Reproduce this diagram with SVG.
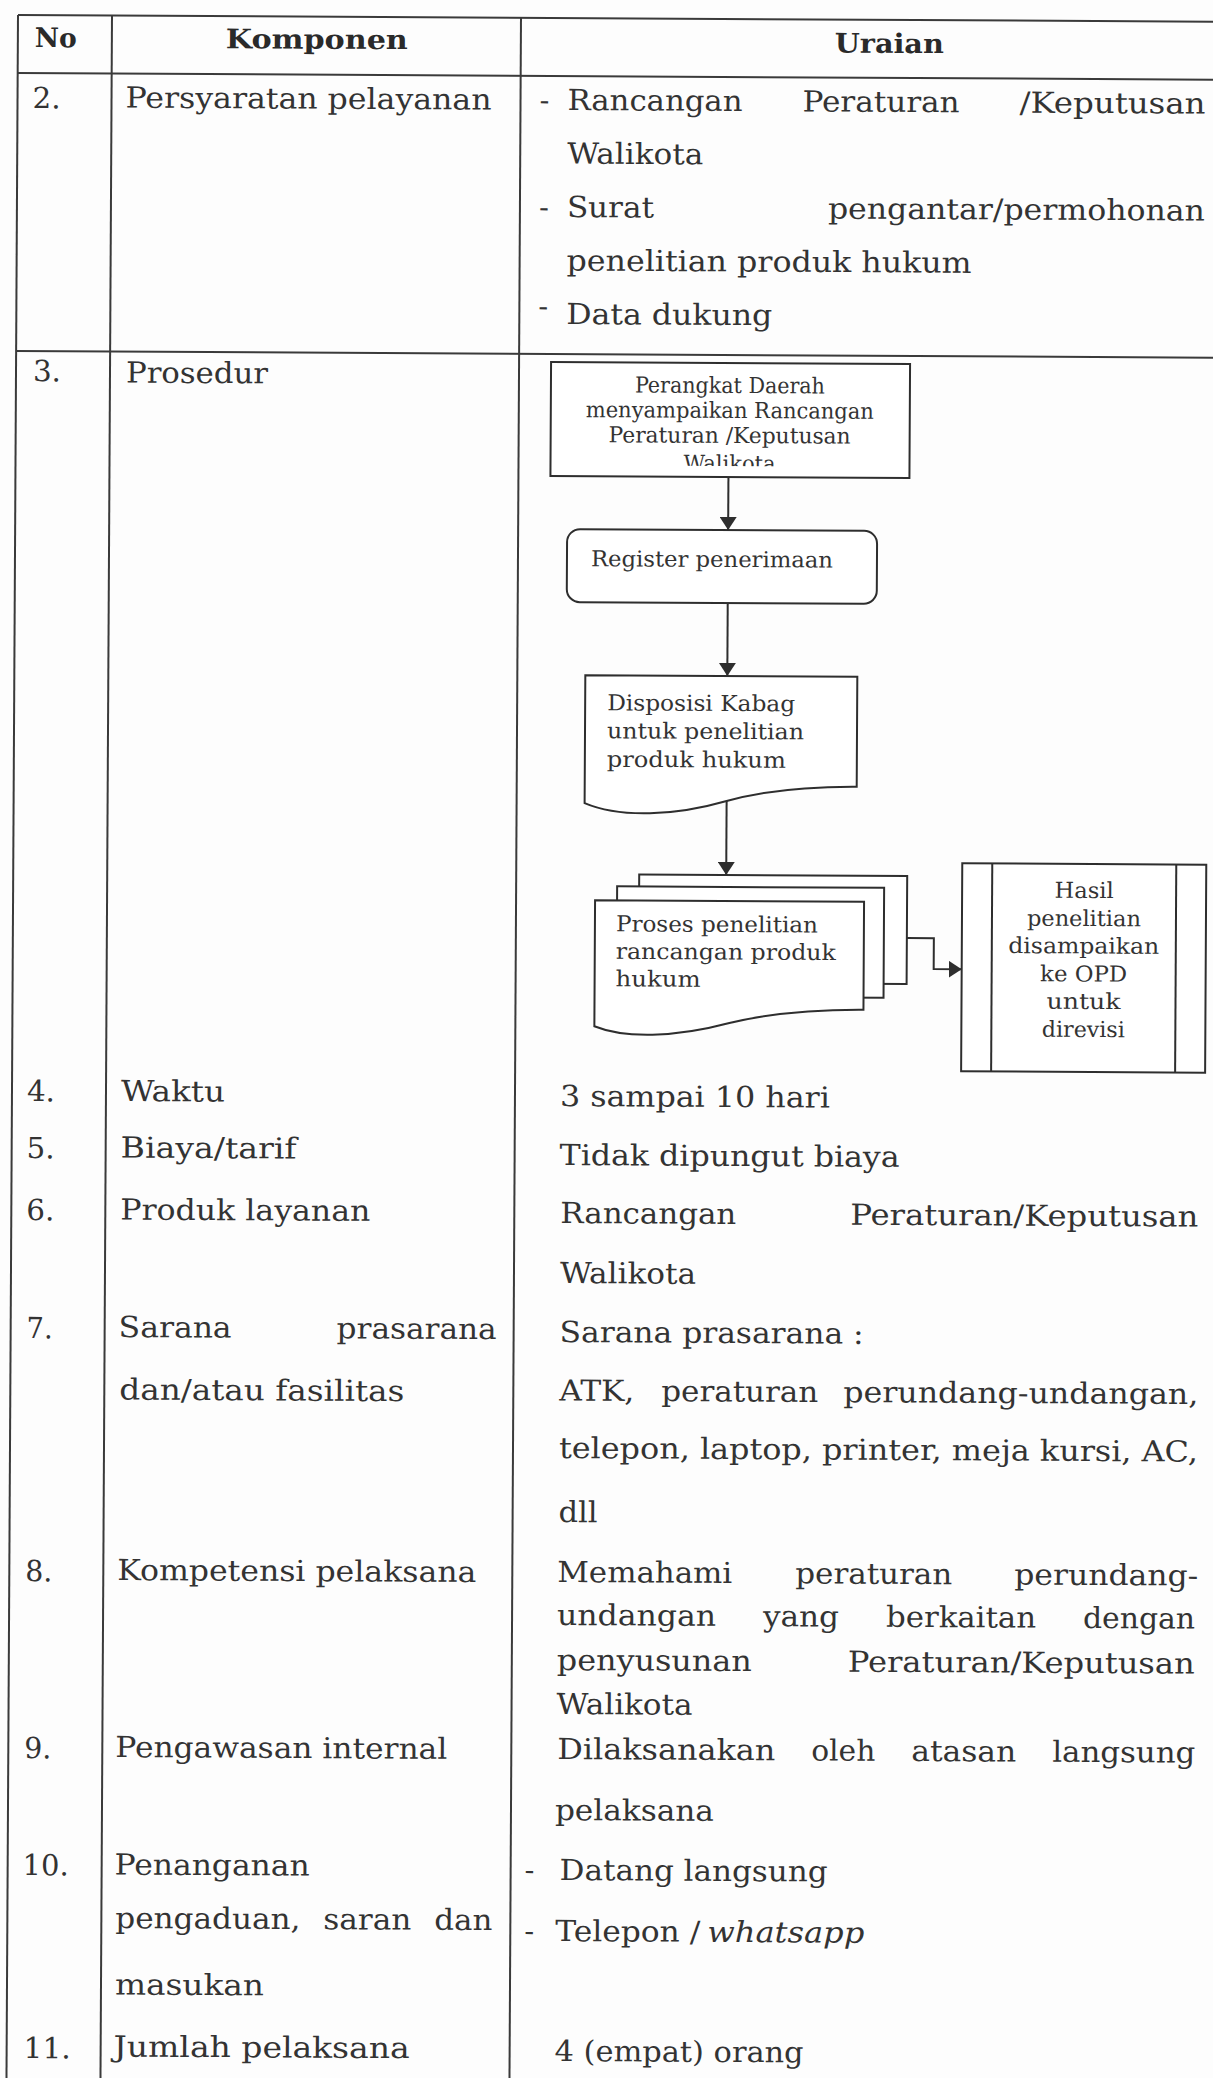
<svg xmlns="http://www.w3.org/2000/svg" width="1213" height="2078" viewBox="0 0 1213 2078">
<defs>
<style>
.t { font-family: "DejaVu Serif", "Liberation Serif", serif; font-size: 29px; fill: #333; }
.h { font-weight: bold; font-size: 27px; fill: #2a2a2a; }
.f { font-size: 22px; }
.it { font-style: italic; }
.mid { text-anchor: middle; }
.ln { stroke: #3a3a3a; stroke-width: 2; fill: none; }
.shape { stroke: #2e2e2e; stroke-width: 2; fill: #fff; }
.conn { stroke: #2e2e2e; stroke-width: 2; fill: none; }
</style>
<marker id="arr" viewBox="0 0 13 17" refX="13" refY="8.5" markerWidth="13" markerHeight="17" markerUnits="userSpaceOnUse" orient="auto">
<path d="M0,0 L13,8.5 L0,17 z" fill="#2e2e2e"/>
</marker>
<clipPath id="clipBox1"><rect x="553" y="359" width="359" height="103"/></clipPath>
</defs>
<rect width="1213" height="2078" fill="#fdfdfd"/>
<g transform="rotate(0.32 18 15)">
<g id="table-grid" class="ln">
<line x1="18" y1="15" x2="1240" y2="15"/>
<line x1="18" y1="73" x2="1240" y2="73"/>
<line x1="18" y1="351" x2="1240" y2="351"/>
<line x1="18" y1="15" x2="18" y2="2100"/>
<line x1="112" y1="15" x2="112" y2="2100"/>
<line x1="521" y1="15" x2="521" y2="2100"/>
</g>
<g id="header">
<text class="t h" x="35" y="47" textLength="42" lengthAdjust="spacingAndGlyphs">No</text>
<text class="t h" x="226" y="47" textLength="182" lengthAdjust="spacingAndGlyphs">Komponen</text>
<text class="t h" x="835" y="48" textLength="109" lengthAdjust="spacingAndGlyphs">Uraian</text>
</g>
<g id="row2">
<text class="t" x="33" y="108" textLength="28" lengthAdjust="spacingAndGlyphs">2.</text>
<text class="t" x="126" y="107" textLength="366" lengthAdjust="spacingAndGlyphs">Persyaratan pelayanan</text>
<text class="t" x="540" y="107">-</text>
<text class="t" x="568" y="107" textLength="175" lengthAdjust="spacingAndGlyphs">Rancangan</text>
<text class="t" x="803" y="107" textLength="157" lengthAdjust="spacingAndGlyphs">Peraturan</text>
<text class="t" x="1020" y="107" textLength="186" lengthAdjust="spacingAndGlyphs">/Keputusan</text>
<text class="t" x="568" y="160.5" textLength="136" lengthAdjust="spacingAndGlyphs">Walikota</text>
<text class="t" x="540" y="214">-</text>
<text class="t" x="568" y="214" textLength="87" lengthAdjust="spacingAndGlyphs">Surat</text>
<text class="t" x="829" y="214" textLength="377" lengthAdjust="spacingAndGlyphs">pengantar/permohonan</text>
<text class="t" x="568" y="267.5" textLength="405" lengthAdjust="spacingAndGlyphs">penelitian produk hukum</text>
<text class="t" x="540" y="313">-</text>
<text class="t" x="568" y="321" textLength="206" lengthAdjust="spacingAndGlyphs">Data dukung</text>
</g>
<g id="row3">
<text class="t" x="35" y="381" textLength="28" lengthAdjust="spacingAndGlyphs">3.</text>
<text class="t" x="128" y="382" textLength="142" lengthAdjust="spacingAndGlyphs">Prosedur</text>
</g>
<g id="connectors">
<path class="conn" d="M731,473 V526" marker-end="url(#arr)"/>
<path class="conn" d="M731,599 V672" marker-end="url(#arr)"/>
<path class="conn" d="M731,797 V871" marker-end="url(#arr)"/>
<path class="conn" d="M912,933 H939 V964 H967" marker-end="url(#arr)"/>
</g>
<g id="node-perangkat">
<rect class="shape" x="553" y="359" width="359" height="114"/>
<g clip-path="url(#clipBox1)">
<text class="t f mid" x="732" y="389" textLength="190" lengthAdjust="spacingAndGlyphs">Perangkat Daerah</text>
<text class="t f mid" x="732" y="414" textLength="288" lengthAdjust="spacingAndGlyphs">menyampaikan Rancangan</text>
<text class="t f mid" x="732" y="439" textLength="242" lengthAdjust="spacingAndGlyphs">Peraturan /Keputusan</text>
<text class="t f mid" x="732" y="467" textLength="92" lengthAdjust="spacingAndGlyphs">Walikota</text>
</g>
</g>
<g id="node-register">
<rect class="shape" x="570" y="526" width="310" height="73" rx="13"/>
<text class="t f" x="594" y="563" textLength="242" lengthAdjust="spacingAndGlyphs">Register penerimaan</text>
</g>
<g id="node-disposisi">
<path class="shape" d="M589,672 H861 V782 C820,782 770,786 731,797 C680,812 625,815 589,800 Z"/>
<text class="t f" x="611" y="707" textLength="188" lengthAdjust="spacingAndGlyphs">Disposisi Kabag</text>
<text class="t f" x="611" y="735" textLength="197" lengthAdjust="spacingAndGlyphs">untuk penelitian</text>
<text class="t f" x="611" y="763.5" textLength="179" lengthAdjust="spacingAndGlyphs">produk hukum</text>
</g>
<g id="node-proses">
<rect class="shape" x="644" y="871" width="268" height="108"/>
<rect class="shape" x="622" y="883" width="267" height="110"/>
<path class="shape" d="M600,897 H869 V1005 C830,1005 780,1008 735,1019 C680,1034 630,1035 600,1023 Z"/>
<text class="t f" x="621" y="928" textLength="202" lengthAdjust="spacingAndGlyphs">Proses penelitian</text>
<text class="t f" x="621" y="955.5" textLength="220" lengthAdjust="spacingAndGlyphs">rancangan produk</text>
<text class="t f" x="621" y="983" textLength="85" lengthAdjust="spacingAndGlyphs">hukum</text>
</g>
<g id="node-hasil">
<rect class="shape" x="967" y="858" width="244" height="208"/>
<line class="conn" x1="997" y1="858" x2="997" y2="1066"/>
<line class="conn" x1="1181" y1="858" x2="1181" y2="1066"/>
<text class="t f mid" x="1089" y="892" textLength="59" lengthAdjust="spacingAndGlyphs">Hasil</text>
<text class="t f mid" x="1089" y="920" textLength="114" lengthAdjust="spacingAndGlyphs">penelitian</text>
<text class="t f mid" x="1089" y="947.5" textLength="151" lengthAdjust="spacingAndGlyphs">disampaikan</text>
<text class="t f mid" x="1089" y="975.5" textLength="87" lengthAdjust="spacingAndGlyphs">ke OPD</text>
<text class="t f mid" x="1089" y="1003" textLength="74" lengthAdjust="spacingAndGlyphs">untuk</text>
<text class="t f mid" x="1089" y="1031" textLength="83" lengthAdjust="spacingAndGlyphs">direvisi</text>
</g>
<g id="row4">
<text class="t" x="33" y="1101" textLength="28" lengthAdjust="spacingAndGlyphs">4.</text>
<text class="t" x="127" y="1100.5" textLength="104" lengthAdjust="spacingAndGlyphs">Waktu</text>
<text class="t" x="566" y="1103" textLength="270" lengthAdjust="spacingAndGlyphs">3 sampai 10 hari</text>
</g>
<g id="row5">
<text class="t" x="33" y="1158" textLength="28" lengthAdjust="spacingAndGlyphs">5.</text>
<text class="t" x="127" y="1157" textLength="176" lengthAdjust="spacingAndGlyphs">Biaya/tarif</text>
<text class="t" x="566" y="1162" textLength="340" lengthAdjust="spacingAndGlyphs">Tidak dipungut biaya</text>
</g>
<g id="row6">
<text class="t" x="33" y="1220" textLength="28" lengthAdjust="spacingAndGlyphs">6.</text>
<text class="t" x="127" y="1219" textLength="250" lengthAdjust="spacingAndGlyphs">Produk layanan</text>
<text class="t" x="567" y="1220" textLength="176" lengthAdjust="spacingAndGlyphs">Rancangan</text>
<text class="t" x="857" y="1220" textLength="348" lengthAdjust="spacingAndGlyphs">Peraturan/Keputusan</text>
<text class="t" x="567" y="1280" textLength="136" lengthAdjust="spacingAndGlyphs">Walikota</text>
</g>
<g id="row7">
<text class="t" x="34" y="1338" textLength="26" lengthAdjust="spacingAndGlyphs">7.</text>
<text class="t" x="126" y="1336.5" textLength="113" lengthAdjust="spacingAndGlyphs">Sarana</text>
<text class="t" x="344" y="1336.5" textLength="160" lengthAdjust="spacingAndGlyphs">prasarana</text>
<text class="t" x="127" y="1399" textLength="285" lengthAdjust="spacingAndGlyphs">dan/atau fasilitas</text>
<text class="t" x="567" y="1339" textLength="304" lengthAdjust="spacingAndGlyphs">Sarana prasarana :</text>
<text class="t" x="567" y="1397.5" textLength="75" lengthAdjust="spacingAndGlyphs">ATK,</text>
<text class="t" x="669" y="1397.5" textLength="157" lengthAdjust="spacingAndGlyphs">peraturan</text>
<text class="t" x="851" y="1397.5" textLength="355" lengthAdjust="spacingAndGlyphs">perundang-undangan,</text>
<text class="t" x="567" y="1455" textLength="639" lengthAdjust="spacingAndGlyphs">telepon, laptop, printer, meja kursi, AC,</text>
<text class="t" x="567" y="1519" textLength="39" lengthAdjust="spacingAndGlyphs">dll</text>
</g>
<g id="row8">
<text class="t" x="34" y="1581" textLength="27" lengthAdjust="spacingAndGlyphs">8.</text>
<text class="t" x="126" y="1579.5" textLength="359" lengthAdjust="spacingAndGlyphs">Kompetensi pelaksana</text>
<text class="t" x="566" y="1579" textLength="175" lengthAdjust="spacingAndGlyphs">Memahami</text>
<text class="t" x="804" y="1579" textLength="157" lengthAdjust="spacingAndGlyphs">peraturan</text>
<text class="t" x="1023" y="1579" textLength="184" lengthAdjust="spacingAndGlyphs">perundang-</text>
<text class="t" x="566" y="1622" textLength="159" lengthAdjust="spacingAndGlyphs">undangan</text>
<text class="t" x="772" y="1622" textLength="76" lengthAdjust="spacingAndGlyphs">yang</text>
<text class="t" x="895" y="1622" textLength="150" lengthAdjust="spacingAndGlyphs">berkaitan</text>
<text class="t" x="1092" y="1622" textLength="112" lengthAdjust="spacingAndGlyphs">dengan</text>
<text class="t" x="566" y="1667" textLength="195" lengthAdjust="spacingAndGlyphs">penyusunan</text>
<text class="t" x="857" y="1667" textLength="347" lengthAdjust="spacingAndGlyphs">Peraturan/Keputusan</text>
<text class="t" x="566" y="1711" textLength="136" lengthAdjust="spacingAndGlyphs">Walikota</text>
</g>
<g id="row9">
<text class="t" x="34" y="1758" textLength="27" lengthAdjust="spacingAndGlyphs">9.</text>
<text class="t" x="125" y="1756.5" textLength="332" lengthAdjust="spacingAndGlyphs">Pengawasan internal</text>
<text class="t" x="567" y="1756" textLength="218" lengthAdjust="spacingAndGlyphs">Dilaksanakan</text>
<text class="t" x="821" y="1756" textLength="64" lengthAdjust="spacingAndGlyphs">oleh</text>
<text class="t" x="921" y="1756" textLength="105" lengthAdjust="spacingAndGlyphs">atasan</text>
<text class="t" x="1062" y="1756" textLength="143" lengthAdjust="spacingAndGlyphs">langsung</text>
<text class="t" x="565" y="1817" textLength="159" lengthAdjust="spacingAndGlyphs">pelaksana</text>
</g>
<g id="row10">
<text class="t" x="33" y="1875" textLength="46" lengthAdjust="spacingAndGlyphs">10.</text>
<text class="t" x="125" y="1874" textLength="195" lengthAdjust="spacingAndGlyphs">Penanganan</text>
<text class="t" x="126" y="1927.5" textLength="185" lengthAdjust="spacingAndGlyphs">pengaduan,</text>
<text class="t" x="334" y="1927.5" textLength="88" lengthAdjust="spacingAndGlyphs">saran</text>
<text class="t" x="445" y="1927.5" textLength="58" lengthAdjust="spacingAndGlyphs">dan</text>
<text class="t" x="126" y="1994" textLength="149" lengthAdjust="spacingAndGlyphs">masukan</text>
<text class="t" x="535" y="1877">-</text>
<text class="t" x="570" y="1877" textLength="268" lengthAdjust="spacingAndGlyphs">Datang langsung</text>
<text class="t" x="535" y="1938">-</text>
<text class="t" x="566" y="1938" textLength="145" lengthAdjust="spacingAndGlyphs">Telepon /</text>
<text class="t it" x="718" y="1938" textLength="157" lengthAdjust="spacingAndGlyphs">whatsapp</text>
</g>
<g id="row11">
<text class="t" x="35" y="2058" textLength="47" lengthAdjust="spacingAndGlyphs">11.</text>
<text class="t" x="125" y="2056" textLength="296" lengthAdjust="spacingAndGlyphs">Jumlah pelaksana</text>
<text class="t" x="566" y="2058" textLength="249" lengthAdjust="spacingAndGlyphs">4 (empat) orang</text>
</g>
</g>
</svg>
